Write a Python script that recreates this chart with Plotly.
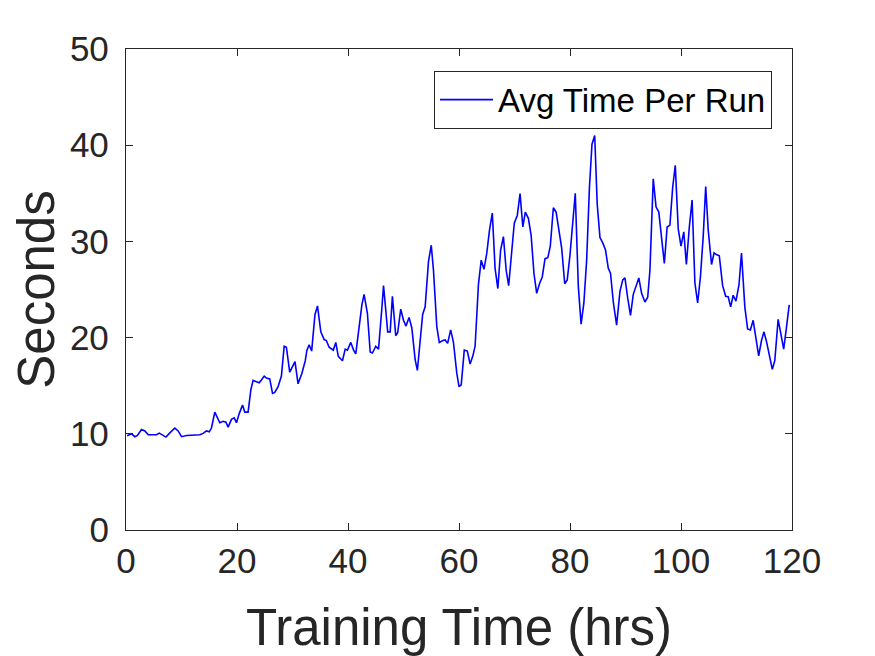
import plotly.graph_objects as go

# Avg time per run vs training time
hours = [0.2, 1.0, 1.6, 2.05, 2.8, 3.4, 4.0, 4.9, 5.5, 6.0, 6.6, 7.2, 7.9, 8.8, 9.4, 10.0,
         10.9, 11.8, 12.7, 13.3, 13.9, 14.5, 15.0, 15.4, 16.0, 16.5, 16.9, 17.5, 18.0, 18.4,
         19.0, 19.5, 19.9, 20.4, 21.0, 21.4, 22.0, 22.5, 22.9, 23.5, 24.0, 24.4, 24.9, 25.3,
         25.9, 26.4, 26.8, 27.4, 28.0, 28.5, 28.9, 29.5, 30.0, 30.45, 31.0, 31.7, 32.3, 32.6,
         33.0, 33.45, 34.05, 34.5, 35.1, 35.7, 36.1, 36.6, 37.35, 37.8, 38.25, 39.0, 39.5,
         39.9, 40.5, 41.0, 41.4, 42.0, 42.5, 42.9, 43.5, 44.0, 44.4, 45.0, 45.5, 46.1, 46.4,
         46.8, 47.15, 47.6, 48.0, 48.6, 48.95, 49.5, 50.0, 50.45, 51.0, 51.5, 52.1, 52.5,
         53.0, 53.45, 53.9, 54.5, 55.0, 55.4, 56.0, 56.45, 57.1, 57.5, 57.95, 58.5, 59.0,
         59.6, 60.0, 60.4, 60.95, 61.5, 62.0, 62.5, 62.9, 63.5, 64.0, 64.5, 65.0, 65.5, 66.0,
         66.5, 67.0, 67.5, 68.0, 68.5, 68.95, 69.5, 69.96, 70.5, 71.0, 71.5, 71.95, 72.5,
         73.0, 73.5, 74.0, 74.5, 75.0, 75.5, 76.0, 76.45, 77.0, 77.5, 77.96, 78.5, 79.05,
         79.5, 80.0, 80.5, 80.95, 81.5, 82.0, 82.5, 83.0, 83.5, 83.96, 84.45, 84.9, 85.4,
         85.9, 86.4, 86.9, 87.3, 87.8, 88.4, 89.0, 89.5, 89.9, 90.4, 90.9, 91.4, 91.9, 92.4,
         92.9, 93.5, 94.0, 94.4, 95.0, 95.5, 96.0, 96.5, 97.0, 97.5, 98.0, 98.5, 98.97, 99.5,
         100.0, 100.5, 100.97, 101.5, 102.0, 102.5, 103.0, 103.5, 104.0, 104.45, 104.9,
         105.5, 105.96, 106.45, 106.9, 107.5, 108.05, 108.5, 108.95, 109.4, 109.9, 110.45,
         110.9, 111.5, 112.0, 112.5, 113.0, 113.5, 114.0, 114.5, 114.95, 115.4, 116.0,
         116.45, 116.9, 117.5, 117.96, 118.5, 118.97, 119.5]

seconds = [9.8, 10.0, 9.7, 9.83, 10.45, 10.3, 9.9, 9.9, 9.9, 10.07, 9.9, 9.66, 10.1, 10.6, 10.3, 9.7,
           9.83, 9.83, 9.83, 9.9, 10.04, 10.3, 10.2, 10.6, 12.25, 11.66, 11.15, 11.3, 11.2, 10.7,
           11.5, 11.66, 11.15, 12.1, 13.0, 12.25, 12.25, 14.6, 15.56, 15.4, 15.3, 15.6, 16.0, 15.8,
           15.7, 14.2, 14.3, 14.9, 16.0, 19.1, 19.0, 16.4, 16.9, 17.5, 15.2, 16.3, 17.6, 18.7,
           19.25, 18.6, 22.4, 23.3, 20.6, 19.8, 19.7, 19.0, 18.7, 19.5, 18.05, 17.6, 18.8,
           18.7, 19.5, 18.7, 18.3, 21.0, 23.4, 24.5, 22.5, 18.5, 18.4, 19.1, 18.8, 23.05, 25.4,
           22.9, 20.6, 20.6, 24.3, 20.2, 20.5, 22.95, 21.8, 21.2, 22.1, 21.0, 17.7, 16.6,
           19.8, 22.4, 23.2, 27.9, 29.6, 27.0, 21.15, 19.5, 19.7, 19.75, 19.4, 20.8, 19.5,
           16.3, 14.9, 15.1, 18.7, 18.6, 17.25, 18.1, 19.1, 25.5, 28.05, 27.1, 28.75, 31.2, 32.95,
           27.2, 25.1, 29.1, 30.5, 27.0, 25.4, 29.4, 31.9, 32.7, 34.96, 31.5, 33.05, 32.4,
           30.6, 26.7, 24.6, 25.6, 26.3, 28.2, 28.3, 29.5, 33.5, 33.05, 31.5, 29.3, 25.6,
           26.0, 28.6, 32.2, 35.0, 25.3, 21.4, 23.6, 28.05, 35.6, 40.1, 41.0, 33.9, 30.4,
           29.85, 29.1, 27.2, 26.7, 23.7, 21.3, 24.8, 26.0, 26.2, 24.1, 22.3, 24.5, 25.3, 26.2,
           24.6, 23.7, 24.2, 27.0, 36.5, 33.6, 33.05, 30.5, 27.7, 31.5, 31.7, 35.6, 37.9, 31.3,
           29.5, 31.0, 27.6, 31.5, 34.3, 25.7, 23.6, 26.3, 30.5, 35.7, 31.2,
           27.6, 28.8, 28.6, 28.5, 25.4, 24.3, 24.25, 23.2, 24.4, 23.8, 25.5,
           28.8, 23.2, 20.9, 20.8, 21.8, 19.95, 18.1, 19.7, 20.6, 19.6, 18.0,
           16.7, 17.6, 21.9, 20.5, 18.8, 20.9, 23.4]

x_ticks = [0, 20, 40, 60, 80, 100, 120]
y_ticks = [0, 10, 20, 30, 40, 50]

grey = "#262626"
font_name = "Liberation Sans, Arial, sans-serif"

fig = go.Figure()
fig.add_trace(go.Scatter(x=hours, y=seconds, mode="lines", name="Avg Time Per Run",
                         line=dict(color="#0000ff", width=1.6)))

axis_style = dict(showline=True, linecolor=grey, linewidth=1.3, mirror="ticks",
                  ticks="inside", ticklen=7, tickcolor=grey, tickwidth=1,
                  showgrid=False, zeroline=False,
                  tickfont=dict(family=font_name, size=35, color=grey))

fig.update_xaxes(range=[0, 120], tickvals=x_ticks,
                 title=dict(text="Training Time (hrs)", font=dict(family=font_name, size=51, color=grey),
                            standoff=30),
                 **axis_style)
fig.update_yaxes(range=[0, 50], tickvals=y_ticks, ticklabelstandoff=9,
                 title=dict(text="Seconds", font=dict(family=font_name, size=51, color=grey),
                            standoff=2),
                 **axis_style)

# page body adds an 8px offset, so margins are trimmed on left/top
fig.update_layout(
    width=875, height=656,
    margin=dict(l=118, r=91, t=41, b=134),
    plot_bgcolor="white", paper_bgcolor="white",
    showlegend=True,
    legend=dict(x=0.97, y=0.955, xanchor="right", yanchor="top",
                bordercolor=grey, borderwidth=1, bgcolor="white", itemwidth=53,
                font=dict(family=font_name, size=33, color="black")),
)

fig.write_html("out.html")
